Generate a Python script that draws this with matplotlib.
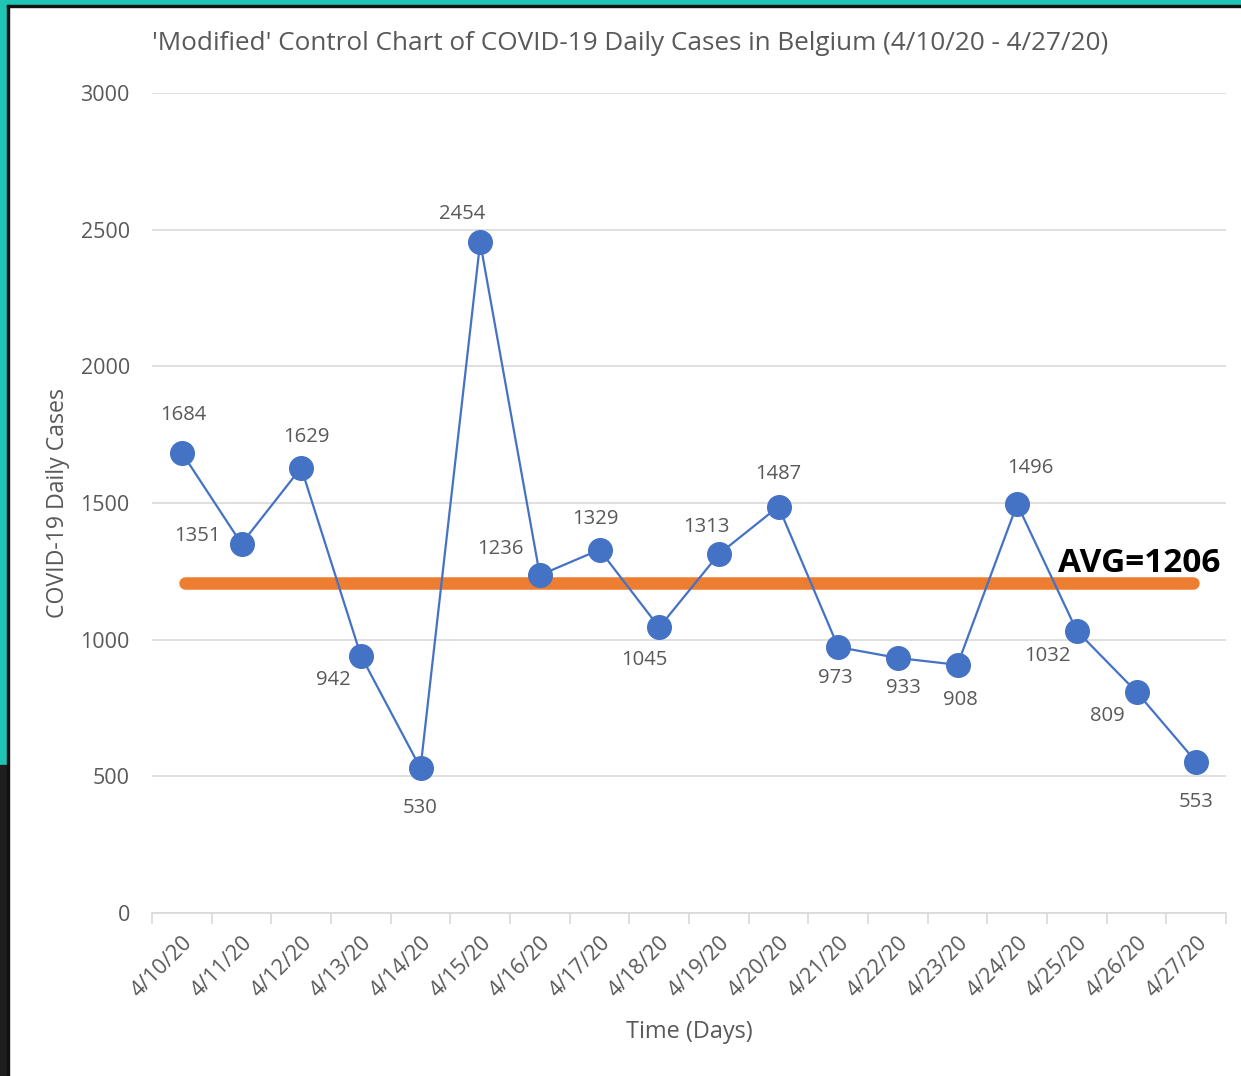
import matplotlib
matplotlib.use("Agg")
import matplotlib.pyplot as plt
from matplotlib.patches import Rectangle

dates = ["4/10/20", "4/11/20", "4/12/20", "4/13/20", "4/14/20", "4/15/20",
         "4/16/20", "4/17/20", "4/18/20", "4/19/20", "4/20/20", "4/21/20",
         "4/22/20", "4/23/20", "4/24/20", "4/25/20", "4/26/20", "4/27/20"]
cases = [1684, 1351, 1629, 942, 530, 2454, 1236, 1329, 1045, 1313, 1487,
         973, 933, 908, 1496, 1032, 809, 553]
avg_value = 1206
y_ticks = [0, 500, 1000, 1500, 2000, 2500, 3000]

# label offsets in pixels (dx, dy) relative to point
label_offsets = [(1, 38), (-44, 8), (5, 31), (-27, -24), (0, -40), (-18, 28),
                 (-39, 26), (-4, 31), (-15, -33), (-12, 27), (0, 33), (-3, -31),
                 (6, -30), (3, -35), (13, 36), (-29, -25), (-29, -24), (0, -40)]

plt.rcParams['font.family'] = ['Open Sans', 'DejaVu Sans']
gray = '#595959'

fig = plt.figure(figsize=(12.41, 10.76), dpi=100)
W, H = 1241, 1076
# border decorations
fig.patches.append(Rectangle((0, 0), 1, 1, transform=fig.transFigure, color='white', zorder=-10))
fig.patches.append(Rectangle((0, 1 - 5 / H), 1, 5 / H, transform=fig.transFigure, color='#1fc4b4', zorder=-5))
fig.patches.append(Rectangle((0, 0), 7 / W, 1, transform=fig.transFigure, color='#1fc4b4', zorder=-5))
fig.patches.append(Rectangle((0, 0), 7 / W, 1 - 765 / H, transform=fig.transFigure, color='#1e1e1e', zorder=-4))
fig.patches.append(Rectangle((7 / W, 0), 2 / W, 1 - 5 / H, transform=fig.transFigure, color='#111111', zorder=-3))
fig.patches.append(Rectangle((7 / W, 1 - 7 / H), 1 - 7 / W, 2 / H, transform=fig.transFigure, color='#111111', zorder=-3))

left, right = 152 / W, 1226 / W
bottom, top = 1 - 913 / H, 1 - 93 / H
ax = fig.add_axes([left, bottom, right - left, top - bottom])
ax.set_facecolor('none')

xs = [i + 0.5 for i in range(len(cases))]
ax.plot(xs, cases, color='#4472C4', lw=1.6, marker='o', markersize=17,
        markerfacecolor='#4472C4', markeredgecolor='#4472C4', zorder=4)

ax.plot([0.55, 17.45], [avg_value, avg_value], color='#ED7D31', lw=9,
        solid_capstyle='round', zorder=3)
ax.text(17.9, 1280, f"AVG={avg_value}", fontsize=24, fontweight='bold',
        color='black', ha='right', va='center', zorder=5)

for x, v, (dx, dy) in zip(xs, cases, label_offsets):
    ax.annotate(str(v), (x, v), xytext=(dx, dy), textcoords='offset pixels',
                ha='center', va='center', fontsize=14.6, color=gray, zorder=6)

ax.set_xlim(0, len(cases))
ax.set_ylim(0, 3000)
ax.set_yticks(y_ticks)
ax.set_yticklabels([str(t) for t in y_ticks], fontsize=15.5, color=gray)
ax.tick_params(axis='y', length=0, pad=16)
ax.yaxis.grid(True, color='#d9d9d9', lw=1.2)
ax.set_axisbelow(True)

ax.set_xticks(range(len(cases) + 1))
ax.set_xticklabels([])
ax.set_xticks(xs, minor=True)
ax.set_xticklabels(dates, minor=True, rotation=45, ha='right', va='top',
                   fontsize=15.5, color=gray, rotation_mode='anchor')
ax.tick_params(axis='x', which='major', length=8, color='#d9d9d9', width=1.2)
ax.tick_params(axis='x', which='minor', length=0, pad=14)
for s in ['top', 'right', 'left']:
    ax.spines[s].set_visible(False)
ax.spines['bottom'].set_color('#d9d9d9')
ax.spines['bottom'].set_linewidth(1.2)

fig.text(630 / W, 1 - 44 / H, "'Modified' Control Chart of COVID-19 Daily Cases in Belgium (4/10/20 - 4/27/20)",
         ha='center', va='center', fontsize=18.8, color=gray)
fig.text(58 / W, 1 - 503 / H, "COVID-19 Daily Cases", rotation=90, ha='center', va='center',
         fontsize=16.7, color=gray)
fig.text(689 / W, 1 - 1032 / H, "Time (Days)", ha='center', va='center', fontsize=16.9, color=gray)

fig.savefig("out.png", dpi=100)
